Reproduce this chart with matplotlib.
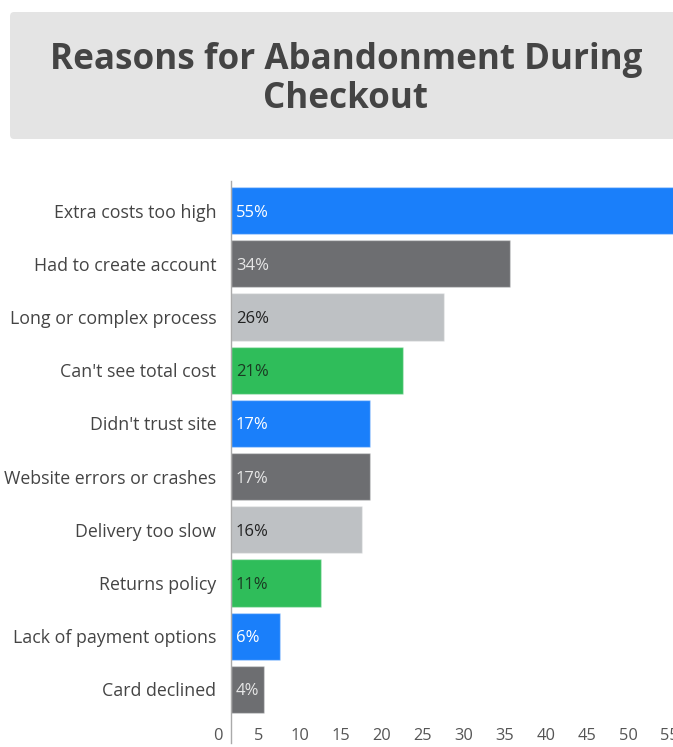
import matplotlib.pyplot as plt
import matplotlib.transforms as mtransforms
from matplotlib.patches import FancyBboxPatch

reasons = ["Extra costs too high", "Had to create account", "Long or complex process",
           "Can't see total cost", "Didn't trust site", "Website errors or crashes",
           "Delivery too slow", "Returns policy", "Lack of payment options", "Card declined"]
percent = [55, 34, 26, 21, 17, 17, 16, 11, 6, 4]
bar_colors = ["#1a7ffa", "#6d6e71", "#bec1c4", "#2fbd5a"] * 3
text_colors = ["#ffffff", "#e6e6e6", "#222222", "#1a3a22"] * 3
xticks = [0, 5, 10, 15, 20, 25, 30, 35, 40, 45, 50, 55]

plt.rcParams['font.family'] = ['Open Sans', 'DejaVu Sans']

W, H = 673, 747
fig = plt.figure(figsize=(W / 100, H / 100), dpi=100)

# grey title box, runs off the right edge like the original
box = FancyBboxPatch((10 / W, 1 - 139 / H), 700 / W, 127 / H,
                     boxstyle="round,pad=0,rounding_size=0.006",
                     transform=fig.transFigure, facecolor="#e4e4e4",
                     edgecolor="none", zorder=0)
fig.patches.append(box)
fig.text(346 / W, 1 - 79.5 / H, "Reasons for Abandonment During\nCheckout",
         ha="center", va="center", fontsize=25.2, fontweight="bold",
         color="#444444", linespacing=1.12)

ppu = 8.2  # pixels per unit on x
ax = fig.add_axes([231 / W, 31 / H, 60 * ppu / W, 532 / H])
y = list(range(len(reasons)))
ax.barh(y, percent, height=0.89, color=bar_colors[:len(reasons)],
        edgecolor=(1, 1, 1, 0.35), linewidth=1)
for i, v in enumerate(percent):
    ax.text(0.6, i, f"{v}%", ha="left", va="center_baseline", fontsize=12,
            color=text_colors[i])

ax.set_xlim(0, 60)
ax.set_ylim(-0.5, len(reasons) - 0.5)
ax.invert_yaxis()
ax.set_yticks(y)
ax.set_yticklabels(reasons, fontsize=12.8, color="#444444")
ax.set_xticks(xticks)
ax.set_xticklabels([str(t) for t in xticks], fontsize=11.8, color="#555555")
ax.tick_params(axis="both", length=0)
ax.tick_params(axis="y", pad=10.5)
ax.tick_params(axis="x", pad=8.5)
shift = mtransforms.ScaledTranslation(-13 / 100, 0, fig.dpi_scale_trans)
for lab in ax.get_xticklabels():
    lab.set_transform(lab.get_transform() + shift)

for s in ["top", "right", "bottom"]:
    ax.spines[s].set_visible(False)
ax.spines["left"].set_color("#aaaaaa")
ax.spines["left"].set_linewidth(1)
ax.spines["left"].set_bounds(-0.55, 10)

fig.savefig("out.png", dpi=100)
